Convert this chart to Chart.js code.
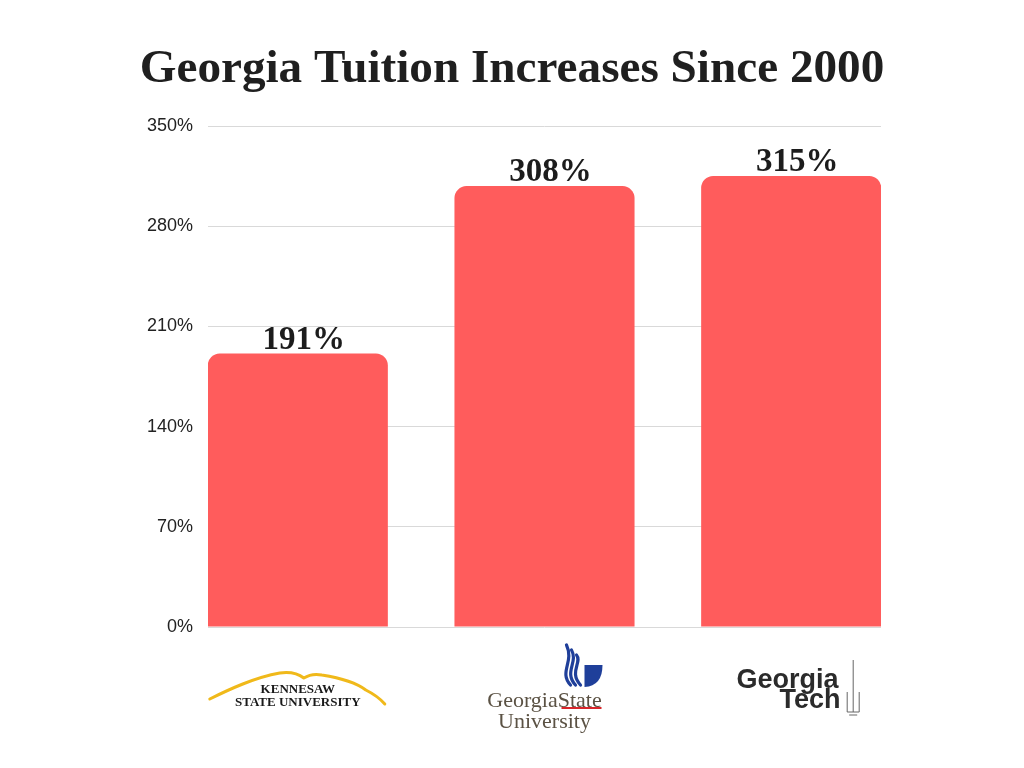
<!DOCTYPE html>
<html>
<head>
<meta charset="utf-8">
<script src="https://cdn.jsdelivr.net/npm/chart.js@4"></script>
<style>
  html, body { margin: 0; padding: 0; background: #fff; }
  #wrap { width: 1024px; height: 768px; position: relative; }
</style>
</head>
<body>
<div id="wrap"><canvas id="chart" width="1024" height="768"></canvas></div>
<script>
const titleText = 'Georgia Tuition Increases Since 2000';
// one entry per bar; the leading '' lines only push a logo label down
const schoolLines = [
  ['', 'KENNESAW', 'STATE UNIVERSITY'],
  ['', 'GeorgiaState', 'University'],
  ['Georgia ', '     Tech']
];
const increases = [191, 308, 315];
const yTicks = [0, 70, 140, 210, 280, 350];

const tickFonts = [
  { family: 'Liberation Serif', size: 13, weight: 'bold', lineHeight: 1.0 },
  { family: 'Liberation Serif', size: 22, weight: 'normal', lineHeight: 0.955 },
  { family: 'Liberation Sans', size: 27, weight: 'bold', lineHeight: 0.76 }
];
const tickColors = ['#1a1a1a', '#5b5244', '#2b2b2b'];

// title centred on the page, width fitted to the reference
const pageTitle = {
  id: 'pageTitle',
  afterDraw(chart) {
    const ctx = chart.ctx;
    ctx.save();
    let size = 46;
    ctx.font = 'bold ' + size + 'px "Liberation Serif"';
    size = size * 744 / ctx.measureText(titleText).width;
    ctx.font = 'bold ' + size.toFixed(1) + 'px "Liberation Serif"';
    ctx.fillStyle = '#1f1f1f';
    ctx.textAlign = 'center';
    ctx.textBaseline = 'alphabetic';
    ctx.fillText(titleText, 512, 82);
    ctx.restore();
  }
};

// value labels above each bar
const valueLabels = {
  id: 'valueLabels',
  afterDatasetsDraw(chart) {
    const ctx = chart.ctx;
    const meta = chart.getDatasetMeta(0);
    ctx.save();
    ctx.font = 'bold 33px "Liberation Serif"';
    ctx.fillStyle = '#1c1c1c';
    ctx.textAlign = 'center';
    ctx.textBaseline = 'alphabetic';
    meta.data.forEach((bar, i) => {
      ctx.fillText(increases[i] + '%', bar.x + 6, bar.y - 5);
    });
    ctx.restore();
  }
};

// small logo decorations around the category labels
const logoMarks = {
  id: 'logoMarks',
  afterDraw(chart) {
    const ctx = chart.ctx;
    const x = chart.scales.x;
    const k = x.getPixelForTick(0);
    const g = x.getPixelForTick(1);
    const t = x.getPixelForTick(2);
    ctx.save();
    // kennesaw mountain outline
    ctx.strokeStyle = '#f0b91a';
    ctx.lineWidth = 3;
    ctx.lineJoin = 'round';
    ctx.lineCap = 'round';
    ctx.beginPath();
    ctx.moveTo(k - 88, 699);
    ctx.quadraticCurveTo(k - 70, 690, k - 55, 684);
    ctx.quadraticCurveTo(k - 35, 676, k - 18, 673);
    ctx.quadraticCurveTo(k - 3, 671, k + 6, 678);
    ctx.quadraticCurveTo(k + 14, 673, k + 24, 675);
    ctx.quadraticCurveTo(k + 55, 680, k + 68, 690);
    ctx.quadraticCurveTo(k + 80, 696, k + 87, 704);
    ctx.stroke();
    // georgia state flame
    ctx.strokeStyle = '#1f3f9a';
    for (let j = 0; j < 3; j++) {
      ctx.lineWidth = 3.2;
      ctx.beginPath();
      ctx.moveTo(g + 26 + j * 5, 685);
      ctx.bezierCurveTo(g + 14 + j * 5, 672, g + 30 + j * 4, 662, g + 22 + j * 5, 645 + j * 5);
      ctx.stroke();
    }
    ctx.fillStyle = '#1f3f9a';
    ctx.beginPath();
    ctx.moveTo(g + 40, 665);
    ctx.lineTo(g + 58, 665);
    ctx.quadraticCurveTo(g + 58, 686, g + 40, 687);
    ctx.closePath();
    ctx.fill();
    ctx.strokeStyle = '#d9262b';
    ctx.lineCap = 'butt';
    ctx.lineWidth = 2;
    ctx.beginPath();
    ctx.moveTo(g + 17, 708);
    ctx.lineTo(g + 57, 708);
    ctx.stroke();
    // georgia tech spire
    ctx.strokeStyle = '#666';
    ctx.lineWidth = 1;
    ctx.beginPath();
    ctx.moveTo(t + 62, 660);
    ctx.lineTo(t + 62, 712);
    ctx.moveTo(t + 56, 712);
    ctx.lineTo(t + 68, 712);
    ctx.moveTo(t + 56, 712);
    ctx.lineTo(t + 56, 692);
    ctx.moveTo(t + 68, 712);
    ctx.lineTo(t + 68, 692);
    ctx.moveTo(t + 58, 715);
    ctx.lineTo(t + 66, 715);
    ctx.stroke();
    ctx.restore();
  }
};

new Chart(document.getElementById('chart'), {
  type: 'bar',
  data: {
    datasets: [{
      data: increases.map((v, i) => ({ x: i, y: v })),
      backgroundColor: '#ff5c5c',
      borderRadius: { topLeft: 12, topRight: 12, bottomLeft: 0, bottomRight: 0 },
      borderSkipped: false,
      barPercentage: 0.73,
      categoryPercentage: 1.0
    }]
  },
  options: {
    responsive: false,
    animation: false,
    devicePixelRatio: 1,
    layout: { padding: { left: 0, right: 143, top: 126, bottom: 0 } },
    plugins: {
      legend: { display: false },
      tooltip: { enabled: false }
    },
    scales: {
      x: {
        type: 'linear',
        min: -0.364,
        max: 2.364,
        offset: false,
        afterBuildTicks: (s) => { s.ticks = schoolLines.map((_, i) => ({ value: i })); },
        grid: { display: false, offset: false },
        border: { display: false },
        ticks: {
          padding: 35,
          maxRotation: 0,
          autoSkip: false,
          crossAlign: 'near',
          callback: (v, i) => schoolLines[i],
          font: (c) => tickFonts[c.index] || tickFonts[0],
          color: (c) => tickColors[c.index] || '#333'
        },
        afterFit: (s) => { s.height = 141; }
      },
      y: {
        min: 0,
        max: 350,
        afterBuildTicks: (s) => { s.ticks = yTicks.map(v => ({ value: v })); },
        grid: { color: '#d9d9d9', lineWidth: 1, drawTicks: false },
        border: { display: false },
        ticks: {
          padding: 15,
          color: '#222',
          font: { family: 'Liberation Sans', size: 18 },
          callback: (v) => v + '%'
        },
        afterFit: (s) => { s.width = 208; }
      }
    }
  },
  plugins: [pageTitle, valueLabels, logoMarks]
});
</script>
</body>
</html>
